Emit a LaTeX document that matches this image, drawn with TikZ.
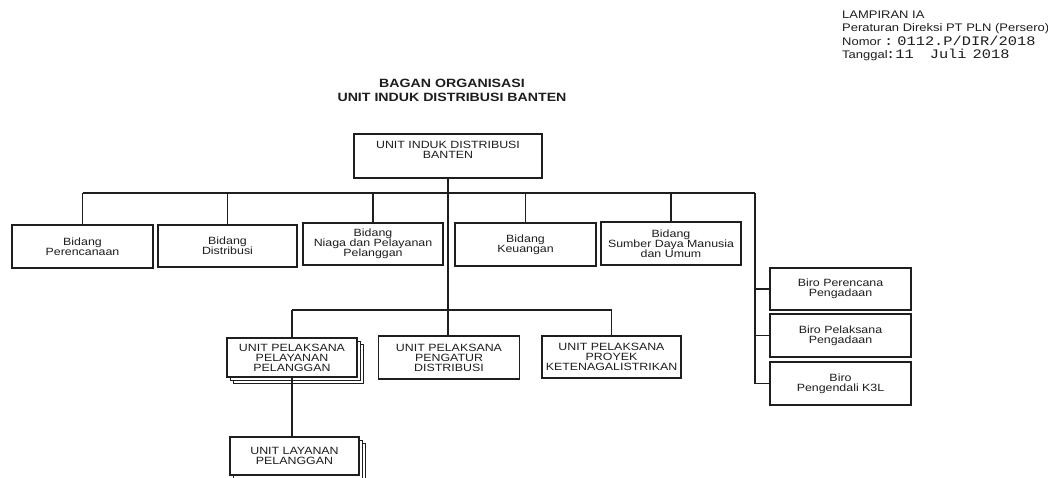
\documentclass[tikz,border=0pt]{standalone}
\usepackage{fontspec}
\setmainfont{Liberation Sans}
\newfontfamily\sfst[FakeStretch=1.18]{Liberation Sans}
\newfontfamily\monost[FakeStretch=1.18]{Liberation Mono}
\usetikzlibrary{shadows}
\definecolor{ink}{HTML}{1E1E1E}
\begin{document}
\begin{tikzpicture}[x=1pt,y=-1pt,
  box/.style={draw=ink,line width=1.1pt,fill=white,inner sep=0pt,align=center,
    text=ink,font=\sfst\fontsize{10.5}{10}\selectfont},
  stackbox/.style={box,double copy shadow={shadow xshift=3pt,shadow yshift=-3pt,draw=ink,line width=1pt,fill=white}},
  conn/.style={draw=ink,line width=1.1pt},
  hdr/.style={anchor=base west,inner sep=0pt,text=ink,font=\sfst\fontsize{11}{12}\selectfont},
  mono/.style={hdr,font=\monost\fontsize{13}{14}\selectfont},
  ttl/.style={inner sep=0pt,text=ink,align=center,font=\sfst\bfseries\fontsize{12}{14}\selectfont}]
\clip (0,0) rectangle (1048,477);
\fill[white] (0,0) rectangle (1048,477);

% header
\node[hdr] (h1) at (842,18) {LAMPIRAN IA};
\node[hdr] (h2) at (842,31) {Peraturan Direksi PT PLN (Persero)};
\node[hdr] (h3) at (842,45) {Nomor};
\node[mono] (h3b) at (884,45) {:\hspace{4pt}0112.P/DIR/2018};
\node[hdr] (h4) at (842,58) {Tanggal};
\node[mono] (h4b) at (886,58) {:11\hspace{16pt}Juli\hspace{6pt}2018};

% title
\node[ttl] (title) at (452,90) {BAGAN ORGANISASI\\UNIT INDUK DISTRIBUSI BANTEN};

% top box
\node[box,minimum width=188pt,minimum height=44pt] (top) at (448,156) {UNIT INDUK DISTRIBUSI\\BANTEN\\[2pt]};

% bidang
\node[box,minimum width=141pt,minimum height=43pt] (per) at (82.5,246.5) {Bidang\\Perencanaan};
\node[box,minimum width=139pt,minimum height=42pt] (dis) at (227.5,246) {Bidang\\Distribusi};
\node[box,minimum width=140pt,minimum height=42pt] (nia) at (373,244) {Bidang\\Niaga dan Pelayanan\\Pelanggan};
\node[box,minimum width=141pt,minimum height=43pt] (keu) at (525.5,244.5) {Bidang\\Keuangan};
\node[box,minimum width=140pt,minimum height=43pt] (sdm) at (671,243.5) {Bidang\\Sumber Daya Manusia\\dan Umum};

% biro
\node[box,minimum width=141pt,minimum height=42pt] (b1) at (840.5,289) {Biro Perencana\\Pengadaan};
\node[box,minimum width=141pt,minimum height=43pt] (b2) at (840.5,335.5) {Biro Pelaksana\\Pengadaan};
\node[box,minimum width=141pt,minimum height=43pt] (b3) at (840.5,383.5) {Biro\\Pengendali K3L};

% unit pelaksana
\node[stackbox,minimum width=130pt,minimum height=39pt] (upp) at (292,357.5) {UNIT PELAKSANA\\PELAYANAN\\PELANGGAN};
\node[box,minimum width=141pt,minimum height=43pt] (upd) at (449,357.5) {UNIT PELAKSANA\\PENGATUR\\DISTRIBUSI};
\node[box,minimum width=139pt,minimum height=42pt] (upk) at (611.5,357) {UNIT PELAKSANA\\PROYEK\\KETENAGALISTRIKAN};
\node[stackbox,minimum width=129pt,minimum height=38pt] (ulp) at (294.5,456) {UNIT LAYANAN\\PELANGGAN};

% connectors
\coordinate (busR) at (755,193);
\coordinate (lbus) at (448,310);
\draw[conn] (per.north |- busR) -- (busR);
\draw[conn] (per.north) -- (per.north |- busR);
\draw[conn] (dis.north) -- (dis.north |- busR);
\draw[conn] (nia.north) -- (nia.north |- busR);
\draw[conn] (keu.north) -- (keu.north |- busR);
\draw[conn] (sdm.north) -- (sdm.north |- busR);
\draw[conn] (top.south) -- (top.south |- upd.north);
\draw[conn] (busR) -- (busR |- b3.west) -- (b3.west);
\draw[conn] (busR |- b1.west) -- (b1.west);
\draw[conn] (busR |- b2.west) -- (b2.west);
\draw[conn] (upp.north |- lbus) -- (upk.north |- lbus);
\draw[conn] (upp.north |- lbus) -- (upp.north);
\draw[conn] (upk.north |- lbus) -- (upk.north);
\draw[conn] (upp.south) -- (upp.south |- ulp.north);
\end{tikzpicture}
\end{document}
